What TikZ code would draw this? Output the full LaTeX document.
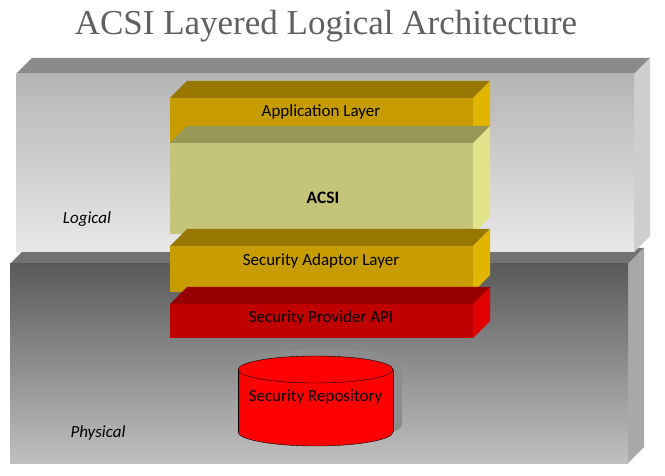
\documentclass[tikz,border=0pt]{standalone}
\usepackage{fontspec}
\setmainfont{Carlito}
\newfontfamily\titlefont{Liberation Serif}

\definecolor{logTop}{RGB}{181,181,181}
\definecolor{logBot}{RGB}{232,232,232}
\definecolor{logLid}{RGB}{138,138,138}
\definecolor{logSide}{RGB}{206,206,206}
\definecolor{phyTop}{RGB}{90,90,90}
\definecolor{phyBot}{RGB}{192,192,192}
\definecolor{phyLid}{RGB}{115,115,115}
\definecolor{phySide}{RGB}{168,168,168}
\definecolor{goldFront}{RGB}{198,156,0}
\definecolor{goldLid}{RGB}{151,119,0}
\definecolor{goldSide}{RGB}{226,181,0}
\definecolor{acsiFront}{RGB}{196,196,122}
\definecolor{acsiLid}{RGB}{151,151,86}
\definecolor{acsiSide}{RGB}{226,226,138}
\definecolor{redFront}{RGB}{192,0,0}
\definecolor{redLid}{RGB}{152,0,0}
\definecolor{redSide}{RGB}{224,0,0}
\definecolor{titleGray}{RGB}{96,96,96}
\definecolor{shadowGray}{RGB}{140,140,140}

% #1,#2 front top left; #3,#4 front bottom right; #5 depth; #6 front; #7 lid; #8 side
\newcommand{\slab}[8]{%
  \fill[#7] (#1,#2) -- (#1+#5,#2-#5) -- (#3+#5,#2-#5) -- (#3,#2) -- cycle;
  \fill[#8] (#3,#2) -- (#3+#5,#2-#5) -- (#3+#5,#4-#5) -- (#3,#4) -- cycle;
  \fill[#6] (#1,#2) rectangle (#3,#4);
}

\begin{document}
\begin{tikzpicture}[x=1pt,y=-1pt,
    label/.style={font=\fontsize{17}{20}\selectfont},
    side/.style={font=\fontsize{17}{20}\selectfont\itshape}]
\useasboundingbox (0,0) rectangle (665,476);

\node[anchor=base,text=titleGray,font=\titlefont\fontsize{35}{40}\selectfont] (title) at (326,35)
    {ACSI Layered Logical Architecture};

\slab{10}{264}{628}{463}{16}{top color=phyTop,bottom color=phyBot}{phyLid}{phySide}
\slab{16}{74}{634}{252}{16}{top color=logTop,bottom color=logBot}{logLid}{logSide}

\slab{170}{98}{473}{143}{17}{goldFront}{goldLid}{goldSide}
\slab{170}{143}{473}{234}{17}{acsiFront}{acsiLid}{acsiSide}
\slab{170}{246}{473}{292}{17}{goldFront}{goldLid}{goldSide}
\slab{170}{304}{473}{338}{17}{redFront}{redLid}{redSide}

\node[label] (app) at (321,112) {Application Layer};
\node[label,font=\fontsize{17.5}{20}\selectfont\bfseries] (acsi) at (323,198) {ACSI};
\node[label] (adaptor) at (321,261) {Security Adaptor Layer};
\node[label] (provider) at (321,318) {Security Provider API};

\node[side] (logical) at (87,219) {Logical};
\node[side] (physical) at (98,433) {Physical};

% repository drum
\begin{scope}[shift={(315.5,0)}]
\fill[shadowGray] (-68.5,362.5) rectangle (86.5,425);
\fill[shadowGray] (9,362.5) ellipse (77.5 and 13.5);
\fill[shadowGray] (9,425) ellipse (77.5 and 14);
\filldraw[fill=red,draw=black,thin] (0,432) ellipse (77.5 and 14);
\fill[red] (-77.5,369.5) rectangle (77.5,432);
\draw[thin] (-77.5,369.5) -- (-77.5,432);
\draw[thin] (77.5,369.5) -- (77.5,432);
\filldraw[fill=red,draw=black,thin] (0,369.5) ellipse (77.5 and 13.5);
\end{scope}
\node[label] (repo) at (315.5,397) {Security Repository};
\end{tikzpicture}
\end{document}
